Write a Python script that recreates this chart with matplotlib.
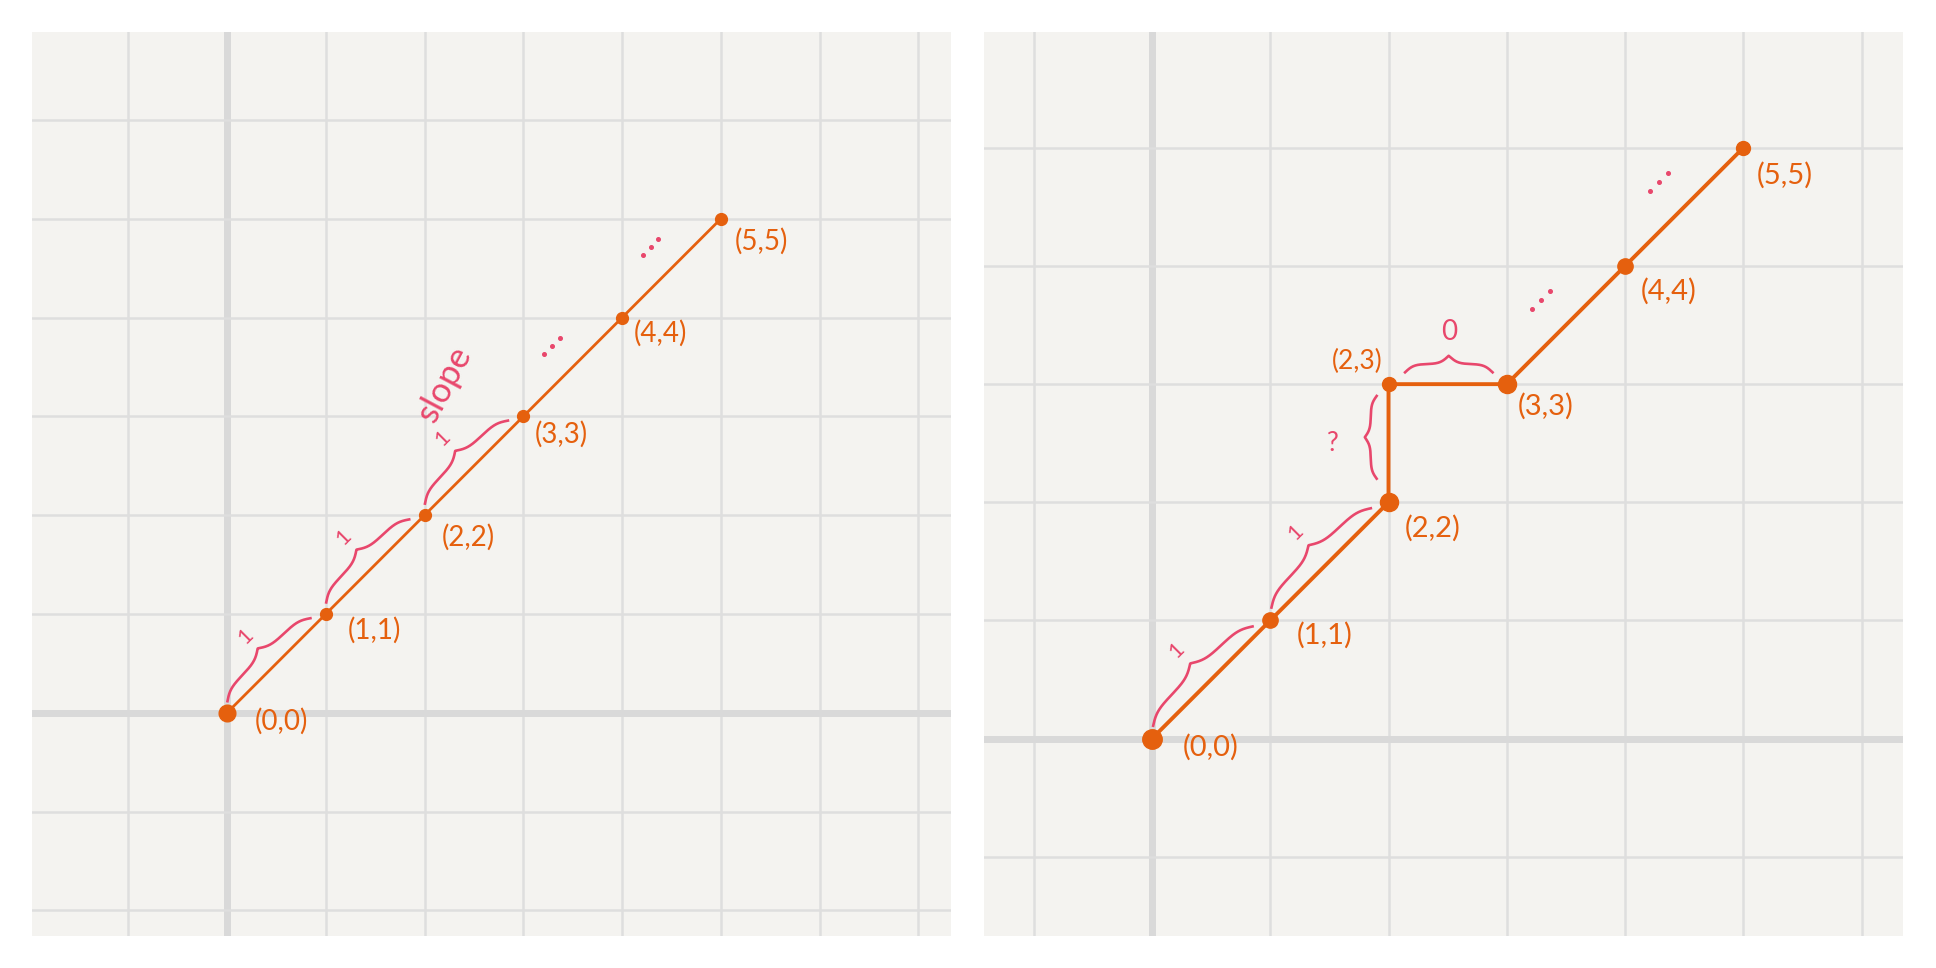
import matplotlib
import numpy as np

matplotlib.use("Agg")
import matplotlib.pyplot as plt

# left panel: a straight line of equal steps
left_x = [0, 1, 2, 3, 4, 5]
left_y = [0, 1, 2, 3, 4, 5]
left_labels = ["(0,0)", "(1,1)", "(2,2)", "(3,3)", "(4,4)", "(5,5)"]
left_braces = [(0, 1), (1, 2), (2, 3)]  # segment index pairs marked "1"

# right panel: same line with a detour through (2,3)
right_x = [0, 1, 2, 2, 3, 4, 5]
right_y = [0, 1, 2, 3, 3, 4, 5]
right_labels = ["(0,0)", "(1,1)", "(2,2)", "(2,3)", "(3,3)", "(4,4)", "(5,5)"]
right_braces = [(0, 1), (1, 2)]
right_step_texts = ["?", "0"]

ORANGE = "#e5600e"
PINK = "#e8476c"
PAPER = "#f4f3f0"
GRID = "#dedede"
AXIS = "#d9d9d9"
FONT = "Lato"

# label offsets in points (left edge of text, vertical centre)
left_offsets = [(20, -6), (16, -12), (12, -16), (8, -13), (8, -11), (10, -16)]
right_offsets = [(22, -6), (19, -11), (12, -19), (-4, 16), (8, -16), (11, -18), (10, -20)]


def brace_path(p0, p1, base, height, trim0=0.06, trim1=0.1, beta=20.0, n=150):
    """Curly brace along p0->p1, pushed out to the left side of the direction."""
    p0 = np.asarray(p0, dtype=float)
    p1 = np.asarray(p1, dtype=float)
    direction = p1 - p0
    length = np.hypot(*direction)
    unit = direction / length
    normal = np.array([-unit[1], unit[0]])
    u_half = np.linspace(0, 0.5, n)
    half = (1 / (1 + np.exp(-beta * (u_half - u_half[0])))
            + 1 / (1 + np.exp(-beta * (u_half - u_half[-1])))) - 0.5
    shape = np.concatenate([half, half[::-1]])
    along = np.linspace(trim0 * length, (1 - trim1) * length, 2 * n)
    points = (p0[None, :] + along[:, None] * unit[None, :]
              + (base + height * shape)[:, None] * normal[None, :])
    tip = p0 + along.mean() * unit + (base + height * 1.0) * normal
    return points, tip, normal


def draw_grid(ax, xlim, ylim):
    ax.set_facecolor(PAPER)
    ax.set_xlim(*xlim)
    ax.set_ylim(*ylim)
    for v in range(int(np.ceil(xlim[0])), int(np.floor(xlim[1])) + 1):
        ax.axvline(v, color=AXIS if v == 0 else GRID,
                   lw=5 if v == 0 else 1.8, zorder=0)
    for v in range(int(np.ceil(ylim[0])), int(np.floor(ylim[1])) + 1):
        ax.axhline(v, color=AXIS if v == 0 else GRID,
                   lw=5 if v == 0 else 1.8, zorder=0)
    for side in ax.spines.values():
        side.set_visible(False)
    ax.set_xticks([])
    ax.set_yticks([])


def draw_dots(ax, p0, p1, offset):
    p0 = np.asarray(p0, dtype=float)
    p1 = np.asarray(p1, dtype=float)
    unit = (p1 - p0) / np.hypot(*(p1 - p0))
    normal = np.array([-unit[1], unit[0]])
    mid = (p0 + p1) / 2
    for k in (-1, 0, 1):
        q = mid + normal * offset + unit * k * 0.11
        ax.plot(q[0], q[1], "o", ms=2.6, color=PINK, zorder=4)


fig = plt.figure(figsize=(19.36, 9.68), dpi=100, facecolor="white")
ax_left = fig.add_axes([32 / 1936, 32 / 968, 919 / 1936, 904 / 968])
ax_right = fig.add_axes([984 / 1936, 32 / 968, 919 / 1936, 904 / 968])

# ---- left panel
draw_grid(ax_left, (-1.976, 7.33), (-2.26, 6.89))
ax_left.plot(left_x, left_y, color=ORANGE, lw=2.0, zorder=3)
sizes = [12] + [8.5] * (len(left_x) - 1)
for x, y, s, label, off in zip(left_x, left_y, sizes, left_labels, left_offsets):
    ax_left.plot(x, y, "o", ms=s, color=ORANGE, zorder=5)
    ax_left.annotate(label, (x, y), xytext=off, textcoords="offset points",
                     ha="left", va="center", color=ORANGE, fontsize=20,
                     family=FONT)
for i, j in left_braces:
    pts, tip, normal = brace_path((left_x[i], left_y[i]), (left_x[j], left_y[j]),
                                  base=0.08, height=0.16)
    ax_left.plot(pts[:, 0], pts[:, 1], color=PINK, lw=1.9, zorder=4)
    t = tip + normal * 0.18
    ax_left.text(t[0], t[1], "1", rotation=45, color=PINK, fontsize=16,
                 ha="center", va="center", family=FONT)
ax_left.text(2.2, 3.33, "slope", rotation=62, color=PINK, fontsize=25,
             ha="center", va="center", family=FONT)
draw_dots(ax_left, (left_x[3], left_y[3]), (left_x[4], left_y[4]), 0.3)
draw_dots(ax_left, (left_x[4], left_y[4]), (left_x[5], left_y[5]), 0.3)

# ---- right panel
draw_grid(ax_right, (-1.42, 6.35), (-1.67, 5.98))
ax_right.plot(right_x, right_y, color=ORANGE, lw=2.8, zorder=3)
sizes = [14, 11, 13, 10, 13, 11, 10]
for x, y, s, label, off in zip(right_x, right_y, sizes, right_labels, right_offsets):
    ax_right.plot(x, y, "o", ms=s, color=ORANGE, zorder=5)
    ha = "right" if label == "(2,3)" else "left"
    size = 19 if label == "(2,3)" else 21
    ax_right.annotate(label, (x, y), xytext=off, textcoords="offset points",
                      ha=ha, va="center", color=ORANGE, fontsize=size,
                      family=FONT)
for i, j in right_braces:
    pts, tip, normal = brace_path((right_x[i], right_y[i]), (right_x[j], right_y[j]),
                                  base=0.07, height=0.15)
    ax_right.plot(pts[:, 0], pts[:, 1], color=PINK, lw=1.9, zorder=4)
    t = tip + normal * 0.16
    ax_right.text(t[0], t[1], "1", rotation=45, color=PINK, fontsize=16,
                  ha="center", va="center", family=FONT)

# vertical step (2,2) -> (2,3): brace on the left
pts, tip, normal = brace_path((right_x[2], right_y[2]), (right_x[3], right_y[3]),
                              base=0.1, height=0.1, trim0=0.2, trim1=0.1)
ax_right.plot(pts[:, 0], pts[:, 1], color=PINK, lw=1.9, zorder=4)
ax_right.text(1.53, 2.5, right_step_texts[0], color=PINK,
              fontsize=19, ha="center", va="center", family=FONT)

# horizontal step (2,3) -> (3,3): brace above
pts, tip, normal = brace_path((right_x[4], right_y[4]), (right_x[3], right_y[3]),
                              base=-0.1, height=-0.14, trim0=0.12, trim1=0.14)
ax_right.plot(pts[:, 0], pts[:, 1], color=PINK, lw=1.9, zorder=4)
ax_right.text(tip[0], tip[1] + 0.2, right_step_texts[1], color=PINK,
              fontsize=20, ha="center", va="center", family=FONT)

draw_dots(ax_right, (right_x[4], right_y[4]), (right_x[5], right_y[5]), 0.3)
draw_dots(ax_right, (right_x[5], right_y[5]), (right_x[6], right_y[6]), 0.3)

fig.savefig("out.png", dpi=100, facecolor="white")
